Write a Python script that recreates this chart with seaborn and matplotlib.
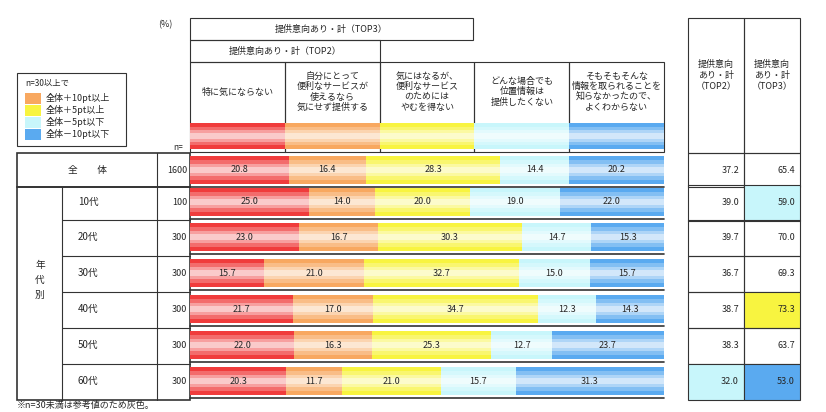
import numpy as np
import pandas as pd
import matplotlib.pyplot as plt
import seaborn as sns
from matplotlib.patches import Rectangle

sns.set_theme(style="white", rc={"font.family": "Noto Sans CJK JP", "font.size": 7})

# data
rows = ['全　　体', '10代', '20代', '30代', '40代', '50代', '60代']
n_values = [1600, 100, 300, 300, 300, 300, 300]
cat_labels = ['特に気にならない', '自分にとって\n便利なサービスが\n使えるなら\n気にせず提供する',
              '気にはなるが、\n便利なサービス\nのためには\nやむを得ない', 'どんな場合でも\n位置情報は\n提供したくない',
              'そもそもそんな\n情報を取られることを\n知らなかったので、\nよくわからない']
c1 = [20.8, 25.0, 23.0, 15.7, 21.7, 22.0, 20.3]
c2 = [16.4, 14.0, 16.7, 21.0, 17.0, 16.3, 11.7]
c3 = [28.3, 20.0, 30.3, 32.7, 34.7, 25.3, 21.0]
c4 = [14.4, 19.0, 14.7, 15.0, 12.3, 12.7, 15.7]
c5 = [20.2, 22.0, 15.3, 15.7, 14.3, 23.7, 31.3]
top2 = [37.2, 39.0, 39.7, 36.7, 38.7, 38.3, 32.0]
top3 = [65.4, 59.0, 70.0, 69.3, 73.3, 63.7, 53.0]
top2_flag = [0, 0, 0, 0, 0, 0, -5]
top3_flag = [0, -5, 0, 0, 5, 0, -10]

colors = ['#f03c3c', '#f8a860', '#f8f440', '#c8f6fb', '#5aaaf0']
flag_col = {5: '#f8f440', 10: '#f8a860', -5: '#c8f6fb', -10: '#5aaaf0'}

df = pd.DataFrame({'c1': c1, 'c2': c2, 'c3': c3, 'c4': c4, 'c5': c5}, index=rows)

W, H = 826, 412
fig = plt.figure(figsize=(W / 100, H / 100), dpi=100)
base = fig.add_axes([0, 0, 1, 1])
base.set_xlim(0, W)
base.set_ylim(H, 0)
base.axis('off')

row_y = [155, 187, 222, 258, 294, 330, 366]
row_h = 30
bar_x0, bar_x1 = 190, 664

def box(x0, y0, x1, y1, lw=0.8, fc='none'):
    base.add_patch(Rectangle((x0, y0), x1 - x0, y1 - y0, fill=fc != 'none', fc=fc, ec='#333333', lw=lw))

# header
base.text(165, 25, '(%)', ha='center', va='center', fontsize=6.5)
box(190, 18, 473, 40)
base.text(331, 29, '提供意向あり・計（TOP3）', ha='center', va='center', fontsize=6.5)
box(190, 40, 380, 62)
base.text(285, 51, '提供意向あり・計（TOP2）', ha='center', va='center', fontsize=6.5)
xs = np.linspace(bar_x0, bar_x1, 6)
for i, lab in enumerate(cat_labels):
    box(xs[i], 62, xs[i + 1], 152)
    base.text((xs[i] + xs[i + 1]) / 2, 92, lab, ha='center', va='center', fontsize=6.5, linespacing=1.2)
base.text(178, 148, 'n=', ha='center', va='center', fontsize=6)

# legend
box(17, 73, 126, 146)
base.text(25, 83, 'n=30以上で', va='center', fontsize=6)
for k, (f, t) in enumerate([(10, '全体＋10pt以上'), (5, '全体＋5pt以上'), (-5, '全体－5pt以下'), (-10, '全体－10pt以下')]):
    y = 98 + k * 12
    base.add_patch(Rectangle((25, y - 5.5), 16, 11, fc=flag_col[f], ec='none'))
    base.text(46, y, t, va='center', fontsize=6.5)

# left table
box(17, 153, 190, 187, lw=1.2)
box(17, 187, 190, 400, lw=1.2)
base.plot([157, 157], [153, 400], color='#333333', lw=0.8)
base.plot([62, 62], [187, 400], color='#333333', lw=0.8)
base.text(40, 280, '年\n代\n別', ha='center', va='center', fontsize=7, linespacing=1.6)
for i, r in enumerate(rows):
    yc = row_y[i] + row_h / 2
    if i > 1:
        base.plot([62, 190], [row_y[i] - 2, row_y[i] - 2], color='#333333', lw=0.8)
    base.text(88 if i == 0 else 78, yc, r, ha='center' if i == 0 else 'left', va='center', fontsize=7)
    base.text(187, yc, str(n_values[i]), ha='right', va='center', fontsize=6.5)
    base.plot([bar_x0, bar_x1], [row_y[i] + row_h + 2] * 2, color='#333333', lw=1.2)

# right table
rx = [688, 744, 800]
box(rx[0], 18, rx[1], 153)
box(rx[1], 18, rx[2], 153)
base.text(716, 75, '提供意向\nあり・計\n（TOP2）', ha='center', va='center', fontsize=6.5, linespacing=1.3)
base.text(772, 75, '提供意向\nあり・計\n（TOP3）', ha='center', va='center', fontsize=6.5, linespacing=1.3)
for i in range(len(rows)):
    y0 = row_y[i] - 2
    y1 = 187 if i == 0 else row_y[i] + row_h + 4
    for j, (vals, flags) in enumerate([(top2, top2_flag), (top3, top3_flag)]):
        fc = flag_col.get(flags[i], 'none')
        box(rx[j], y0 if i > 0 else 153, rx[j + 1], y1, fc=fc)
        base.text(rx[j + 1] - 5, row_y[i] + row_h / 2, f'{vals[i]:.1f}', ha='right', va='center', fontsize=6.5)

base.text(17, 405, '※n=30未満は参考値のため灰色。', va='center', fontsize=6.5)

# bars
bax = fig.add_axes([bar_x0 / W, 1 - 398 / H, (bar_x1 - bar_x0) / W, (398 - 122) / H])
bax.set_xlim(0, 100)
bax.set_ylim(398, 122)
bax.axis('off')

def shaded(ys, widths, lefts, h, color):
    bax.barh(ys, widths, left=lefts, height=h, color=color, edgecolor='none')
    for frac, a in [(0.7, 0.25), (0.45, 0.35), (0.2, 0.45)]:
        bax.barh(ys, widths, left=lefts, height=h * frac, color='white', alpha=a, edgecolor='none')

centers = [y + row_h / 2 for y in row_y]
left = np.zeros(len(rows))
for j, col in enumerate(df.columns):
    vals = df[col].values
    shaded(centers, vals, left, row_h - 2, colors[j])
    for c, l, v in zip(centers, left, vals):
        bax.text(l + v / 2, c, f'{v:.1f}', ha='center', va='center', fontsize=6.5)
    # header sample bar
    shaded([136], [20], [j * 20], 26, colors[j])
    left += vals

fig.savefig('out.png', dpi=100)
